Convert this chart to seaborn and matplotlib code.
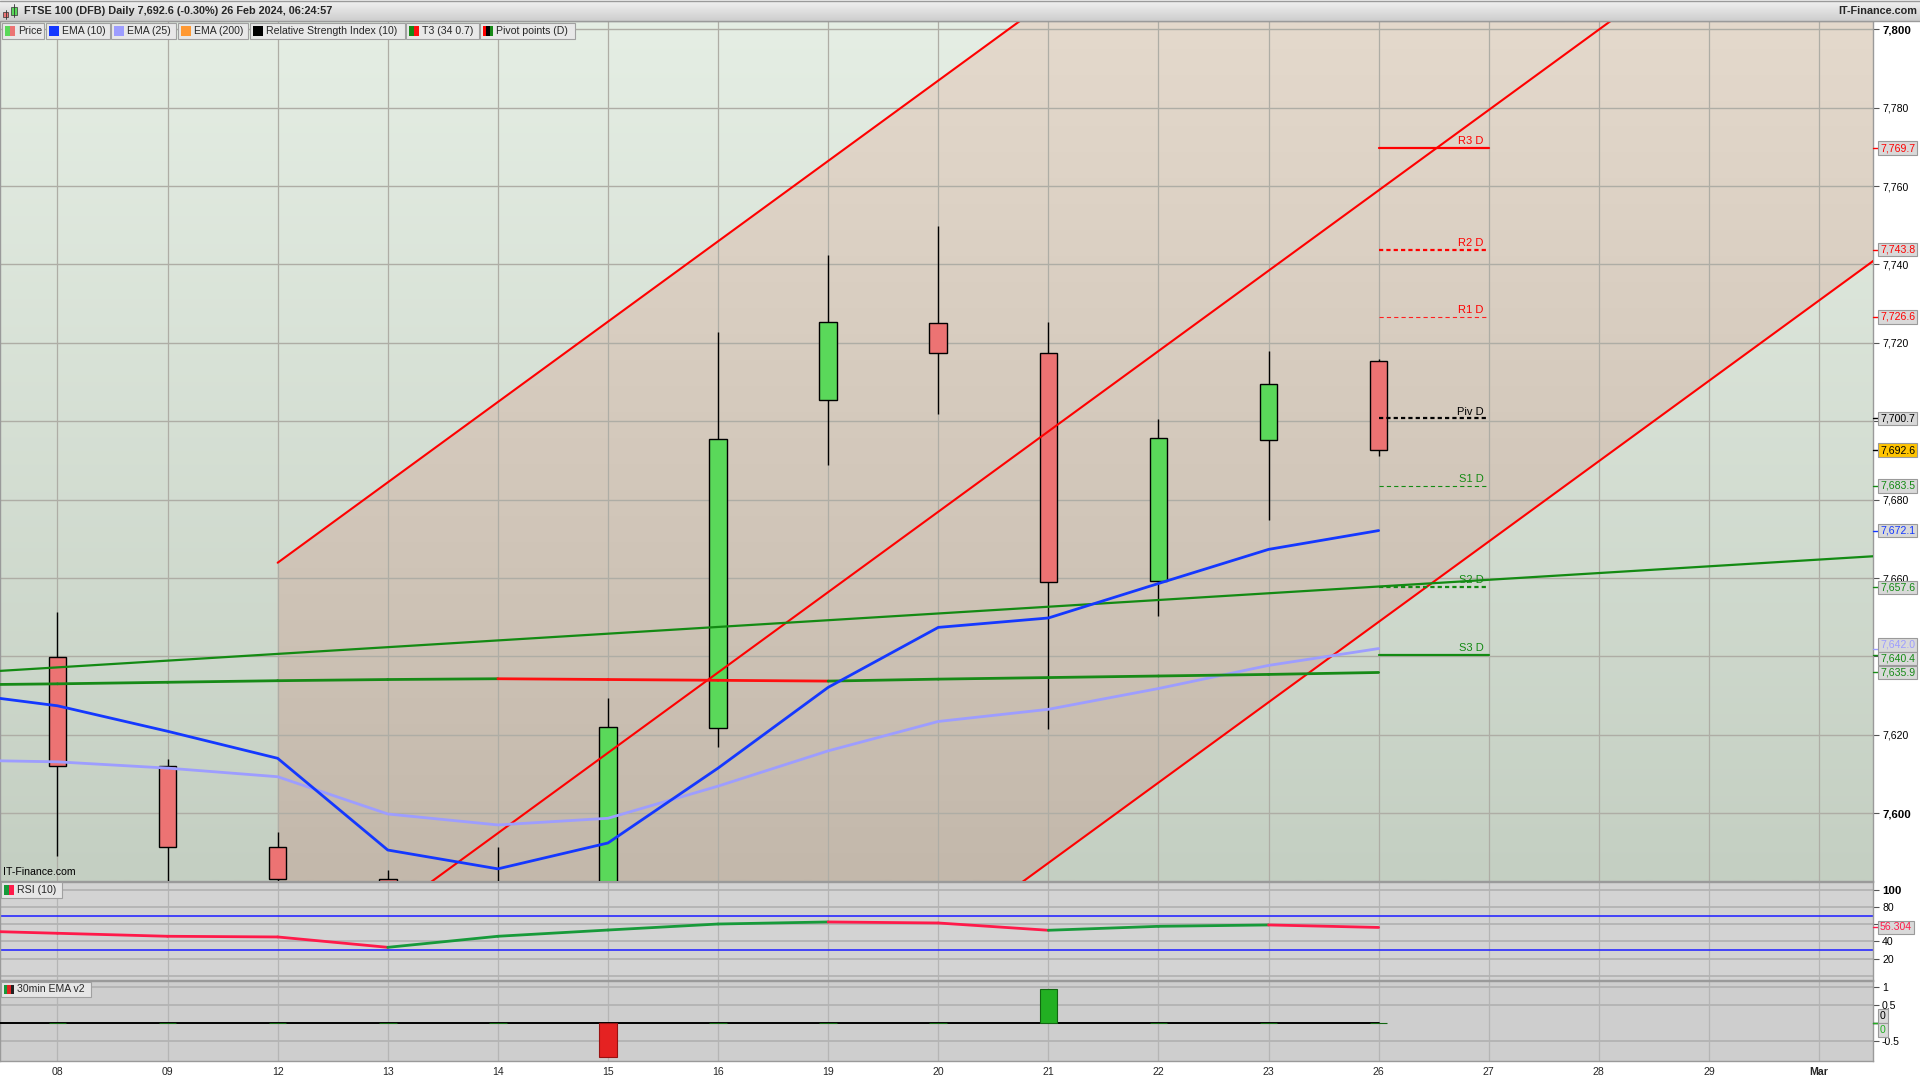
import numpy as np
import pandas as pd
import matplotlib
matplotlib.use("Agg")
import matplotlib.pyplot as plt
from matplotlib.patches import Rectangle, Polygon
from matplotlib.lines import Line2D
import matplotlib.colors as mcolors
import seaborn as sns

# ---------------- data ----------------
dates = ["08", "09", "12", "13", "14", "15", "16", "19", "20", "21", "22", "23", "26",
         "27", "28", "29", "Mar"]
candle_dates = ["08", "09", "12", "13", "14", "15", "16", "19", "20", "21", "22", "23", "26"]
opens = [7639.9, 7612.1, 7591.3, 7583.3, 7520.0, 7566.0, 7621.8, 7705.5, 7725.0, 7717.3, 7659.2, 7695.3, 7715.3]
highs = [7651.4, 7613.7, 7595.1, 7585.6, 7591.5, 7629.3, 7722.8, 7742.4, 7749.9, 7725.3, 7700.6, 7717.9, 7715.9]
lows = [7589.1, 7575.0, 7570.0, 7490.0, 7505.0, 7560.0, 7616.8, 7688.9, 7701.9, 7621.5, 7650.2, 7674.8, 7691.0]
closes = [7612.1, 7591.3, 7583.2, 7500.0, 7566.0, 7622.1, 7695.4, 7725.3, 7717.3, 7658.9, 7695.6, 7709.4, 7692.6]

line_dates = ["07"] + candle_dates
ema10 = [7631.0, 7627.4, 7620.9, 7614.0, 7590.6, 7585.8, 7592.4, 7611.5, 7632.1, 7647.4, 7649.8, 7658.6, 7667.3, 7672.1]
ema25 = [7613.6, 7613.1, 7611.5, 7609.3, 7599.8, 7597.0, 7598.7, 7606.9, 7615.9, 7623.4, 7626.5, 7631.8, 7637.7, 7642.0]
t3 = [7632.7, 7633.0, 7633.4, 7633.8, 7634.1, 7634.3, 7634.1, 7633.9, 7633.7, 7634.2, 7634.6, 7635.0, 7635.4, 7635.9]
rsi = [53.0, 49.5, 46.0, 45.2, 33.1, 46.0, 53.3, 60.3, 62.7, 61.5, 53.0, 57.6, 59.2, 56.304]
ema_v2_signal = [0, 0, 0, 0, 0, 0, -0.95, 0, 0, 0, 0.95, 0, 0, 0]

pivot_names = ["R3 D", "R2 D", "R1 D", "Piv D", "S1 D", "S2 D", "S3 D"]
pivot_values = [7769.7, 7743.8, 7726.6, 7700.7, 7683.5, 7657.6, 7640.4]
pivot_from, pivot_to = "26", "27"

channel_dates = ["12", "Mar"]
channel_upper = [7663.9, 7950.9]
channel_middle = [7553.9, 7840.9]
channel_lower = [7443.8, 7730.8]
trend_dates = ["08", "Mar"]
trend_values = [7637.2, 7664.7]

price_ticks = [7600, 7620, 7640, 7660, 7680, 7700, 7720, 7740, 7760, 7780, 7800]
hidden_price_ticks = [7640, 7700]
rsi_ticks = [20, 40, 60, 80, 100]
hidden_rsi_ticks = [60]
rsi_levels = [30, 70]
ema_v2_ticks = [-0.5, 0.5, 1]
title = "FTSE 100 (DFB) Daily 7,692.6 (-0.30%) 26 Feb 2024, 06:24:57"
legend_items = ["Price", "EMA (10)", "EMA (25)", "EMA (200)", "Relative Strength Index (10)",
                "T3 (34 0.7)", "Pivot points (D)"]

# ---------------- style ----------------
sns.set_theme(style="white")
plt.rcParams["font.family"] = ["Liberation Sans", "DejaVu Sans"]
plt.rcParams["axes.linewidth"] = 1.0

W, H = 1920, 1080
fig = plt.figure(figsize=(19.2, 10.8), dpi=100, facecolor="white")


def fx(x):
    return x / W


def fy(y):
    return 1 - y / H


GREEN_C = "#5ad85a"
RED_C = "#ec7373"
pos = {d: i for i, d in enumerate(dates)}
pos["07"] = -1
XL = (-0.522, 16.49)

ax = fig.add_axes([0, fy(881), fx(1873), (881 - 21) / H])
ax_rsi = fig.add_axes([0, fy(980), fx(1873), (980 - 882) / H])
ax_ema = fig.add_axes([0, fy(1061), fx(1873), (1061 - 981) / H])
for a in (ax, ax_rsi, ax_ema):
    a.set_xlim(*XL)
    for s in a.spines.values():
        s.set_color("#9a9a9a")
        s.set_linewidth(1.0)
ax.set_ylim(7582.7, 7802.1)
ax_rsi.set_ylim(-5, 109.3)
ax_ema.set_ylim(-1.05, 1.175)


def vgrad(a, top, bottom, extent, z=0):
    t = np.linspace(0, 1, 256)[:, None, None]
    c0 = np.array(mcolors.to_rgb(top))[None, None, :]
    c1 = np.array(mcolors.to_rgb(bottom))[None, None, :]
    img = c0 * (1 - t) + c1 * t
    return a.imshow(img, extent=extent, aspect="auto", origin="upper",
                    interpolation="bilinear", zorder=z)


y0, y1 = ax.get_ylim()
vgrad(ax, "#e5eee4", "#c4cfc2", [XL[0], XL[1], y0, y1], z=0)

# channel
cx0, cx1 = pos[channel_dates[0]], pos[channel_dates[1]]


def chan(vals, x):
    slope = (vals[1] - vals[0]) / (cx1 - cx0)
    return vals[0] + slope * (x - cx0)


xe = 17.5
poly = Polygon([(cx0, chan(channel_upper, cx0)), (xe, chan(channel_upper, xe)),
                (xe, chan(channel_lower, xe)), (cx0, chan(channel_lower, cx0))],
               closed=True, transform=ax.transData, facecolor="none", edgecolor="none")
ax.add_patch(poly)
tan = vgrad(ax, "#e4d9cc", "#c3b8ab", [XL[0], XL[1], y0, y1], z=0.5)
tan.set_clip_path(poly)

# grid
for i in range(len(dates)):
    for a, c in ((ax, "#aeada5"), (ax_rsi, "#b5b5b5"), (ax_ema, "#b5b5b5")):
        a.axvline(i, color=c, lw=0.9, zorder=1)
for v in price_ticks:
    ax.axhline(v, color="#aeada5", lw=1.0, zorder=1)

# channel lines
for vals in (channel_upper, channel_middle, channel_lower):
    ax.plot([cx0, xe], [chan(vals, cx0), chan(vals, xe)], color="#ff0000", lw=1.5, zorder=7)

# trend line (green)
tx = [pos[d] for d in trend_dates]
ax.axline((tx[0], trend_values[0]), (tx[1], trend_values[1]), color="#138a13", lw=1.6, zorder=7)

# candles
cx = np.array([pos[d] for d in candle_dates])
o, h, l, c = map(np.array, (opens, highs, lows, closes))
colors = np.where(c >= o, GREEN_C, RED_C)
ax.vlines(cx, l, h, color="black", lw=1.0, zorder=5)
ax.bar(cx, np.abs(c - o), bottom=np.minimum(o, c), width=0.16, color=colors,
       edgecolor="black", linewidth=1.0, zorder=6)

# EMA lines
df = pd.DataFrame({"x": [pos[d] for d in line_dates], "ema10": ema10, "ema25": ema25,
                   "t3": t3, "rsi": rsi, "sig": ema_v2_signal})
sns.lineplot(data=df, x="x", y="ema25", ax=ax, color="#9d9dff", lw=2.0, zorder=8, legend=False)
sns.lineplot(data=df, x="x", y="ema10", ax=ax, color="#1438ff", lw=2.0, zorder=9, legend=False)


def slope_colored(a, xs, ys, up, down, lw, z):
    for i in range(len(xs) - 1):
        col = up if ys[i + 1] >= ys[i] else down
        a.plot(xs[i:i + 2], ys[i:i + 2], color=col, lw=lw, zorder=z, solid_capstyle="round")


slope_colored(ax, df["x"].values, df["t3"].values, "#178a17", "#ff1010", 2.0, 8)

# pivots
pstyles = [("#ff0000", 1.6, "-"), ("#ff0000", 1.6, (0, (1.9, 1.4))), ("#ff2020", 0.8, (0, (3.8, 2.8))),
           ("#000000", 1.6, (0, (1.9, 1.4))), ("#138a13", 0.8, (0, (3.8, 2.8))),
           ("#138a13", 1.6, (0, (1.9, 1.4))), ("#138a13", 1.6, "-")]
px0, px1 = pos[pivot_from], pos[pivot_to]
for name, val, (col, lw, ls) in zip(pivot_names, pivot_values, pstyles):
    ax.plot([px0, px1], [val, val], color=col, lw=lw, ls=ls, zorder=10)
    tcol = "#ff0000" if name.startswith("R") else ("#000000" if name.startswith("P") else "#138a13")
    ax.text(px1 - 0.05, val + 0.5, name, color=tcol, fontsize=8, ha="right", va="bottom", zorder=10)

ax.text(3 / 1873, 4 / 860, "IT-Finance.com", transform=ax.transAxes, fontsize=7.6,
        ha="left", va="bottom", color="black", zorder=12)

# y ticks
for a in (ax, ax_rsi, ax_ema):
    a.yaxis.tick_right()
    a.tick_params(axis="y", length=4, width=0.8, color="#555555", pad=2.5, labelsize=7.6,
                  labelcolor="black", right=True, left=False)
    a.tick_params(axis="x", length=0, labelbottom=False)
ax.set_yticks(price_ticks)
ax.set_yticklabels(["" if v in hidden_price_ticks else f"{v:,}" for v in price_ticks])
for lab, v in zip(ax.get_yticklabels(), price_ticks):
    if v in (7600, 7800):
        lab.set_fontweight("bold")
        lab.set_fontsize(8.2)
ax.set_xticks(range(len(dates)))
ax.set_ylabel("")
ax.set_xlabel("")

# RSI panel
ax_rsi.set_facecolor("#d3d3d3")
for v in [0, 20, 40, 60, 80, 100]:
    ax_rsi.axhline(v, color="#b3b3b3", lw=1.3, zorder=1)
for v in rsi_levels:
    ax_rsi.axhline(v, color="#2a2aff", lw=1.2, zorder=2)
slope_colored(ax_rsi, df["x"].values, df["rsi"].values, "#179a3a", "#ff1a4a", 2.0, 5)
ax_rsi.set_yticks(rsi_ticks)
ax_rsi.set_yticklabels(["" if v in hidden_rsi_ticks else str(v) for v in rsi_ticks])
for lab, v in zip(ax_rsi.get_yticklabels(), rsi_ticks):
    if v == 100:
        lab.set_fontweight("bold")
        lab.set_fontsize(8.2)
ax_rsi.set_ylabel("")

# EMA v2 panel
ax_ema.set_facecolor("#cecece")
for v in [1, 0.5, -0.5]:
    ax_ema.axhline(v, color="#b3b3b3", lw=1.3, zorder=1)
sns.lineplot(data=df, x="x", y=np.zeros(len(df)), ax=ax_ema, color="black", lw=1.4, zorder=4,
             legend=False)
sig = df["sig"].values
bar_cols = np.where(sig >= 0, "#22b022", "#e52222")
ax_ema.bar(df["x"].values, sig, width=0.16, color=bar_cols,
           edgecolor=np.where(sig >= 0, "#116611", "#991111"), linewidth=0.8, zorder=5)
ax_ema.set_yticks(ema_v2_ticks)
ax_ema.set_yticklabels(["-0.5", "0.5", "1"])
ax_ema.set_ylabel("")
ax_ema.set_xlabel("")
ax_ema.set_xticks(range(len(dates)))
ax_ema.set_xticklabels(dates)
ax_ema.tick_params(axis="x", labelbottom=True, length=0, pad=4, labelsize=7.6)
for lab in ax_ema.get_xticklabels():
    if lab.get_text() == "Mar":
        lab.set_fontweight("bold")


# ---------------- right-axis value boxes ----------------
def spread(ys, gap, it=200):
    ys = np.array(ys, float)
    order = np.argsort(ys, kind="stable")
    v = ys[order].copy()
    for _ in range(it):
        moved = False
        for i in range(len(v) - 1):
            d = v[i + 1] - v[i]
            if d < gap - 1e-6:
                shift = (gap - d) / 2
                v[i] -= shift
                v[i + 1] += shift
                moved = True
        if not moved:
            break
    out = np.empty_like(v)
    out[order] = v
    return out


def ypix(a, v):
    return H - a.transData.transform((0, v))[1]


def value_boxes(a, items, gap=13.5):
    yp = [ypix(a, v) for v, *_ in items]
    ys = spread(yp, gap)
    for (v, txt, tc, fc), y, y_true in zip(items, ys, yp):
        fig.add_artist(Line2D([fx(1873), fx(1878)], [fy(y_true), fy(y_true)], color=tc, lw=1.0,
                              transform=fig.transFigure))
        fig.text(fx(1880), fy(y), txt, color=tc, fontsize=7.6, ha="left", va="center", zorder=20,
                 bbox=dict(boxstyle="square,pad=0.18", fc=fc, ec="#9a9a9a", lw=0.8))


GRAYBOX = "#d9d9d9"
main_items = [(pivot_values[0], f"{pivot_values[0]:,.1f}", "#ff0000", GRAYBOX),
              (pivot_values[1], f"{pivot_values[1]:,.1f}", "#ff0000", GRAYBOX),
              (pivot_values[2], f"{pivot_values[2]:,.1f}", "#ff0000", GRAYBOX),
              (pivot_values[3], f"{pivot_values[3]:,.1f}", "#000000", GRAYBOX),
              (closes[-1], f"{closes[-1]:,.1f}", "#000000", "#ffc400"),
              (pivot_values[4], f"{pivot_values[4]:,.1f}", "#138a13", GRAYBOX),
              (ema10[-1], f"{ema10[-1]:,.1f}", "#1438ff", GRAYBOX),
              (pivot_values[5], f"{pivot_values[5]:,.1f}", "#138a13", GRAYBOX),
              (ema25[-1], f"{ema25[-1]:,.1f}", "#9d9dff", GRAYBOX),
              (pivot_values[6], f"{pivot_values[6]:,.1f}", "#138a13", GRAYBOX),
              (t3[-1], f"{t3[-1]:,.1f}", "#178a17", GRAYBOX)]
value_boxes(ax, main_items)
value_boxes(ax_rsi, [(rsi[-1], f"{rsi[-1]:.3f}", "#ff1a4a", GRAYBOX)])
value_boxes(ax_ema, [(0.0001, "0", "#000000", GRAYBOX), (0, "0", "#22b022", GRAYBOX)], gap=14)

# ---------------- header ----------------
hdr = fig.add_axes([0, fy(21), 1, 21 / H])
vgrad(hdr, "#f3f3f3", "#cdcdcd", [0, 1, 0, 1])
hdr.set_xlim(0, 1)
hdr.set_ylim(0, 1)
hdr.axis("off")
fig.add_artist(Line2D([0, 1], [fy(21), fy(21)], color="#9a9a9a", lw=1, transform=fig.transFigure))
fig.add_artist(Line2D([0, 1], [fy(0.5), fy(0.5)], color="#9a9a9a", lw=1, transform=fig.transFigure))
fig.text(fx(23.5), fy(11.5), title, fontsize=7.8, fontweight="bold", ha="left", va="center")
fig.text(fx(1917), fy(11.5), "IT-Finance.com", fontsize=7.8, fontweight="bold", ha="right", va="center")


def frect(x0, y0, x1, y1, **kw):
    fig.add_artist(Rectangle((fx(x0), fy(y1)), (x1 - x0) / W, (y1 - y0) / H,
                             transform=fig.transFigure, **kw))


# header icon
fig.add_artist(Line2D([fx(5.7), fx(5.7)], [fy(10), fy(19)], color="#333", lw=0.6, transform=fig.transFigure))
frect(3.3, 12, 8.2, 17.3, facecolor=RED_C, edgecolor="#333", lw=0.5)
fig.add_artist(Line2D([fx(14.2), fx(14.2)], [fy(4), fy(17)], color="#333", lw=0.6, transform=fig.transFigure))
frect(11.4, 7.3, 17.1, 15.3, facecolor=GREEN_C, edgecolor="#333", lw=0.5)

# legend strip
leg_x = [(2, 44), (45.7, 110), (111, 176), (178, 248), (250, 405), (406, 479), (480, 575)]
leg_icons = [[GREEN_C, RED_C], ["#1438ff"], ["#9d9dff"], ["#ff9933"], ["#000000"],
             ["#178a17", "#ff1010"], ["#ff0000", "#000000", "#178a17"]]
for (x0, x1), name, icons in zip(leg_x, legend_items, leg_icons):
    frect(x0, 22.7, x1, 38.7, facecolor="#e8e8e8", edgecolor="#a0a0a0", lw=0.8, zorder=15)
    n = len(icons)
    wseg = 10 / n
    for k, ic in enumerate(icons):
        frect(x0 + 3 + k * wseg, 25.5, x0 + 3 + (k + 1) * wseg, 36, facecolor=ic, edgecolor="none", zorder=16)
    fig.text(fx(x0 + 16), fy(31), name, fontsize=7.6, ha="left", va="center", zorder=16)

# panel label boxes
for (x0, y0_, x1, y1_), name, icons in [((1, 882, 62, 898), "RSI (10)", ["#179a3a", "#ff1a4a"]),
                                        ((1, 982, 91, 997), "30min EMA v2", ["#179a3a", "#e52222", "#222222"])]:
    frect(x0, y0_, x1, y1_, facecolor="#e6e6e6", edgecolor="#a0a0a0", lw=0.8, zorder=15)
    wseg = 10 / len(icons)
    for k, ic in enumerate(icons):
        frect(x0 + 3 + k * wseg, y0_ + 3, x0 + 3 + (k + 1) * wseg, y1_ - 3, facecolor=ic, edgecolor="none", zorder=16)
    fig.text(fx(x0 + 16), fy((y0_ + y1_) / 2), name, fontsize=7.6, ha="left", va="center", zorder=16)

fig.savefig("out.png", dpi=100, facecolor="white")
